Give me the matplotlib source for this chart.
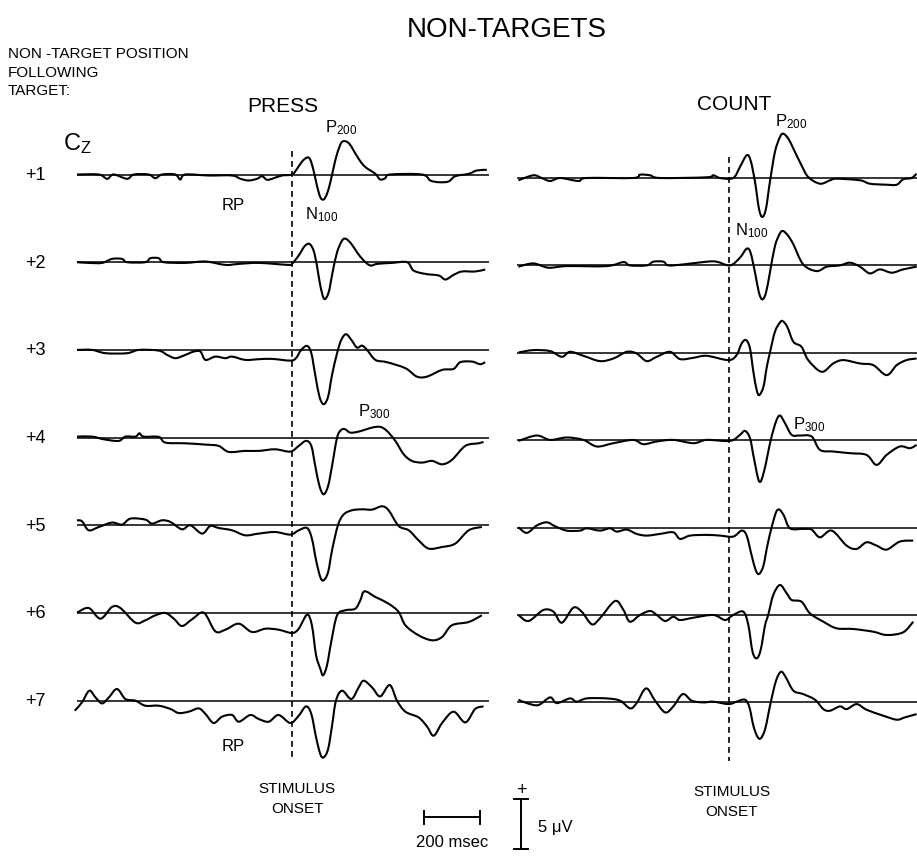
import numpy as np
import matplotlib
matplotlib.use("Agg")
import matplotlib.pyplot as plt
from matplotlib.path import Path
from matplotlib.patches import PathPatch

plt.rcParams['font.family'] = ['Liberation Sans', 'DejaVu Sans']
plt.rcParams['mathtext.fontset'] = 'custom'
plt.rcParams['mathtext.rm'] = 'Liberation Sans'
plt.rcParams['mathtext.it'] = 'Liberation Sans'

# ERP traces at Cz, (time in ms from stimulus onset, amplitude in uV, positive up)
press_1 = [(-768, 0), (-690, 0), (-660, -0.43), (-637, 0), (-589, -0.43), (-565, 0), (-512, 0),
           (-488, -0.37), (-464, 0), (-417, 0), (-399, -0.5), (-381, 0), (-298, -0.1), (-214, -0.1),
           (-184, -0.43), (-155, -0.6), (-125, -0.43), (-107, -0.17), (-89, -0.53), (-65, -0.37),
           (-36, -0.1), (0, 0), (18, 0.57), (36, 1.3), (54, 1.7), (65, 1.5), (77, 0.4), (89, -1.1),
           (101, -2.27), (113, -2.5), (125, -1.93), (137, -0.77), (149, 0.73), (161, 2.07),
           (176, 3.17), (190, 3.33), (205, 3.07), (220, 2.4), (238, 1.57), (256, 0.9), (274, 0.5),
           (298, 0.07), (315, -0.5), (333, -0.37), (351, 0), (464, 0), (494, -0.6), (524, -0.77),
           (559, -0.7), (583, -0.17), (631, 0.07), (660, 0.4), (696, 0.47)]
press_2 = [(-768, 0), (-726, -0.07), (-678, -0.07), (-643, 0.33), (-607, 0.33), (-589, 0), (-524, 0),
           (-506, 0.4), (-476, 0.4), (-458, 0), (-381, -0.07), (-309, 0.07), (-238, -0.27),
           (-190, -0.17), (-119, -0.07), (-12, -0.27), (0, -0.17), (24, 0.67), (45, 1.6), (62, 1.83),
           (77, 1.17), (89, -0.33), (101, -2.33), (115, -3.67), (131, -3.0), (145, -1.0), (161, 1.0),
           (179, 2.17), (193, 2.33), (212, 1.83), (232, 1.0), (256, 0.17), (280, -0.33),
           (304, -0.17), (357, -0.07), (411, 0), (434, -0.83), (476, -1.17), (524, -1.33),
           (548, -1.73), (577, -1.27), (607, -0.93), (654, -0.93), (690, -0.73)]
press_3 = [(-768, 0), (-714, 0), (-666, -0.33), (-589, -0.33), (-547, 0), (-476, -0.07), (-446, -0.5),
           (-417, -0.83), (-387, -0.57), (-351, -0.17), (-327, -0.17), (-309, -1.0), (-274, -0.67),
           (-238, -0.83), (-214, -0.67), (-167, -1.0), (-119, -0.93), (-71, -0.9), (-6, -1.07),
           (14, -0.83), (33, 0), (54, 0.4), (69, -0.33), (83, -2.5), (98, -4.67), (113, -5.43),
           (129, -4.67), (143, -2.5), (161, -0.33), (176, 1.0), (193, 1.57), (212, 1.0), (232, 0.23),
           (250, 0.43), (268, 0), (298, -1.0), (339, -1.23), (405, -1.83), (446, -2.67),
           (482, -2.67), (536, -2.0), (577, -1.9), (601, -1.23), (643, -1.17), (672, -1.43),
           (690, -1.23)]
press_4 = [(-768, 0.1), (-714, 0.1), (-672, -0.17), (-619, -0.33), (-595, 0.1), (-559, 0.1),
           (-545, 0.43), (-530, 0.1), (-476, 0.07), (-452, -0.5), (-381, -0.57), (-309, -0.7),
           (-262, -0.83), (-226, -1.43), (-167, -1.33), (-119, -1.33), (-60, -1.17), (-6, -1.4),
           (24, -0.83), (50, -0.33), (69, -0.83), (83, -2.83), (98, -4.83), (113, -5.67),
           (129, -4.83), (143, -2.83), (161, 0), (176, 0.77), (190, 0.83), (208, 0.5), (238, 0.6),
           (286, 1.0), (315, 1.07), (339, 0.67), (369, -0.33), (399, -1.67), (428, -2.33),
           (464, -2.5), (500, -2.33), (536, -2.67), (571, -2.23), (619, -0.83), (666, -0.57),
           (684, -0.43)]
press_5 = [(-768, 0.5), (-750, 0.4), (-726, -0.5), (-690, -0.17), (-643, 0.27), (-607, 0.07),
           (-577, 0.67), (-524, 0.57), (-500, 0.17), (-464, 0.5), (-434, 0.33), (-393, -0.4),
           (-363, 0), (-321, -0.83), (-292, -0.07), (-262, -0.27), (-214, -0.5), (-167, -1.0),
           (-119, -0.83), (-60, -0.67), (-6, -0.93), (24, -0.5), (54, -0.27), (71, -1.33),
           (86, -3.5), (101, -5.17), (113, -5.5), (129, -4.67), (143, -2.5), (164, 0), (184, 1.07),
           (214, 1.5), (250, 1.6), (286, 1.57), (321, 1.9), (345, 1.5), (381, -0.07), (417, -0.5),
           (452, -1.5), (488, -2.33), (536, -2.17), (583, -1.83), (631, -0.5), (678, -0.17)]
press_6 = [(-768, 0.03), (-726, 0.5), (-684, -0.57), (-643, 0.6), (-613, 0.5), (-559, -0.97),
           (-524, -0.73), (-488, -0.23), (-452, 0), (-422, -0.57), (-393, -1.3), (-357, -0.63),
           (-315, 0.03), (-274, -1.83), (-238, -1.67), (-190, -1.07), (-143, -1.9), (-95, -1.57),
           (-48, -1.67), (0, -2.0), (24, -1.57), (54, -0.17), (71, -1.23), (86, -4.23),
           (101, -5.57), (111, -6.23), (125, -5.23), (140, -2.9), (161, -0.23), (190, 0.27),
           (226, 0.43), (244, 1.27), (259, 2.17), (298, 1.6), (345, 0.93), (381, 0.1), (405, -1.23),
           (452, -2.23), (500, -2.73), (536, -2.4), (571, -1.23), (631, -0.9), (678, -0.23)]
press_7 = [(-776, -1.0), (-750, -0.17), (-724, 1.0), (-702, 0.33), (-678, -0.27), (-654, 0.33),
           (-625, 1.17), (-595, 0.17), (-559, 0), (-524, -0.5), (-476, -0.5), (-434, -0.83),
           (-405, -1.23), (-369, -1.1), (-333, -0.77), (-309, -1.33), (-280, -2.23), (-250, -1.6),
           (-214, -1.43), (-190, -2.1), (-149, -1.43), (-119, -1.83), (-83, -2.1), (-48, -1.43),
           (-6, -2.23), (24, -1.5), (50, -0.57), (69, -1.33), (86, -3.67), (101, -5.33),
           (113, -5.67), (129, -4.83), (143, -2.5), (157, 0), (179, 1.0), (212, 0.17), (238, 1.33),
           (256, 2.0), (286, 1.33), (315, 0.43), (349, 1.57), (375, 0), (405, -1.1), (452, -1.67),
           (482, -2.57), (506, -3.5), (536, -2.23), (577, -1.1), (619, -2.17), (654, -0.83),
           (684, -0.57)]

count_1 = [(-752, -0.23), (-699, 0.27), (-669, 0), (-639, -0.3), (-603, 0), (-538, -0.3), (-508, 0),
           (-342, 0), (-318, 0.33), (-282, 0.27), (-246, 0), (-80, 0.07), (-56, 0.27), (-32, 0),
           (15, 0), (39, 1.1), (63, 2.27), (77, 1.77), (93, -0.4), (107, -3.07), (119, -3.9),
           (132, -3.07), (146, -0.4), (164, 2.6), (182, 4.1), (194, 4.43), (212, 3.93), (230, 2.93),
           (259, 1.27), (283, 0.1), (325, -0.57), (361, -0.23), (384, -0.07), (468, -0.23),
           (503, -0.57), (563, -0.67), (599, -0.67), (622, -0.13), (652, 0), (670, 0.43)]
count_2 = [(-752, -0.13), (-699, 0.2), (-645, -0.23), (-580, -0.07), (-437, -0.07), (-377, 0.33),
           (-354, 0), (-294, 0), (-270, 0.37), (-234, 0.37), (-217, 0), (-163, 0.1), (-80, 0.37),
           (-44, 0.37), (4, 0), (39, 0.77), (63, 1.67), (77, 1.27), (93, -0.73), (107, -2.73),
           (119, -3.4), (132, -2.73), (146, -0.73), (164, 1.93), (182, 3.2), (194, 3.43),
           (212, 2.93), (230, 2.1), (265, 0.1), (313, -0.57), (349, -0.13), (396, 0), (432, 0.27),
           (468, -0.13), (503, -0.8), (539, -0.4), (581, -0.73), (622, -0.4), (670, -0.13)]
count_3 = [(-752, 0.03), (-699, 0.27), (-639, 0.17), (-597, -0.4), (-568, 0.1), (-520, -0.3),
           (-461, -0.83), (-413, -0.57), (-365, 0.1), (-330, -0.07), (-294, -0.83), (-258, -0.4),
           (-211, 0.1), (-175, -0.63), (-127, -0.5), (-80, -0.3), (-2, -0.73), (27, -0.23),
           (45, 0.93), (61, 1.27), (75, 0.43), (87, -1.9), (99, -3.73), (108, -4.23), (123, -3.4),
           (134, -1.57), (146, 0), (164, 2.1), (182, 3.03), (192, 3.17), (208, 2.6), (230, 1.1),
           (259, 0.6), (283, -0.73), (331, -1.9), (372, -1.07), (408, -0.73), (468, -1.07),
           (515, -1.23), (563, -2.23), (599, -1.23), (634, -0.73), (670, -0.57)]
count_4 = [(-752, -0.07), (-687, 0.47), (-639, 0.03), (-580, 0.27), (-520, 0.03), (-472, -0.63),
           (-413, -0.3), (-342, 0.03), (-306, -0.4), (-258, -0.13), (-199, 0.03), (-127, -0.3),
           (-80, 0.03), (4, -0.07), (39, 0.53), (57, 0.93), (75, 0.2), (89, -1.8), (108, -4.13),
           (125, -3.13), (149, 0), (168, 1.87), (182, 2.47), (200, 1.7), (224, 0.53), (253, 0.47),
           (295, 0.37), (325, -0.97), (372, -1.13), (432, -1.3), (491, -1.47), (527, -2.47),
           (563, -1.47), (610, -0.63), (646, -0.8), (670, -0.47)]
count_5 = [(-752, 0.03), (-722, -0.53), (-687, 0.2), (-651, 0.53), (-621, 0.13), (-580, -0.3),
           (-532, -0.3), (-508, -0.07), (-461, -0.3), (-425, -0.07), (-401, -0.4), (-365, -0.2),
           (-330, -0.63), (-294, -0.8), (-246, -0.63), (-199, -0.47), (-175, -1.13), (-139, -0.8),
           (-80, -0.73), (-32, -0.8), (15, -0.9), (45, -0.3), (63, -0.8), (81, -2.8), (96, -4.3),
           (108, -4.63), (123, -3.8), (137, -1.8), (152, 0), (168, 1.53), (180, 1.8), (196, 1.2),
           (218, -0.07), (265, -0.13), (295, -0.2), (325, -0.97), (367, -0.3), (420, -1.8),
           (456, -2.13), (491, -1.47), (527, -1.8), (563, -2.2), (610, -1.4), (658, -1.3)]
count_6 = [(-752, 0), (-716, -0.6), (-663, 0.5), (-627, 0.33), (-597, -0.77), (-556, 0.73),
           (-526, 0.33), (-490, -0.93), (-461, -0.33), (-407, 1.4), (-377, 0.5), (-354, -0.67),
           (-318, 0), (-282, 0.4), (-258, 0), (-228, -0.6), (-199, -0.17), (-175, -0.5),
           (-127, -0.27), (-56, 0), (-14, -0.5), (15, 0), (51, 0.33), (69, -1.0), (84, -3.67),
           (99, -4.33), (113, -3.5), (129, -1.0), (140, 0), (158, 2.0), (182, 3.0), (206, 2.17),
           (224, 1.5), (259, 1.33), (289, 0.17), (337, -0.67), (384, -1.33), (444, -1.4),
           (515, -1.67), (563, -2.0), (622, -1.73), (658, -0.67)]
count_7 = [(-752, 0.27), (-722, -0.07), (-681, -0.27), (-639, 0.5), (-615, -0.07), (-568, 0.4),
           (-544, 0.07), (-508, 0.4), (-437, 0.4), (-389, 0.17), (-353, -0.6), (-330, -0.07),
           (-296, 1.4), (-264, 0.17), (-228, -1.0), (-199, -0.4), (-165, 0.83), (-133, 0.17),
           (-92, 0), (-56, 0.07), (-2, -0.17), (27, 0.07), (57, 0.27), (73, -0.5), (87, -2.33),
           (101, -3.4), (113, -3.6), (129, -2.67), (149, 0), (168, 2.17), (186, 3.07), (203, 2.5),
           (230, 1.17), (265, 0.83), (307, 0.27), (337, -0.67), (361, -0.83), (396, -0.4),
           (420, -0.67), (456, -0.17), (491, -0.73), (551, -1.33), (599, -1.73), (628, -1.5),
           (670, -1.17)]

press_traces = [press_1, press_2, press_3, press_4, press_5, press_6, press_7]
count_traces = [count_1, count_2, count_3, count_4, count_5, count_6, count_7]
positions = ['+1', '+2', '+3', '+4', '+5', '+6', '+7']

W, H = 917, 862
fig = plt.figure(figsize=(W / 100, H / 100), dpi=100)
PX_PER_MS = 0.28
PX_PER_UV = 10.0


def fx(x):
    return x / W


def fy(y):
    return 1 - y / H


def make_panel(x0, x1, onset_px, base_px, step_px, top=110, bottom=780):
    ax = fig.add_axes([fx(x0), fy(bottom), (x1 - x0) / W, (bottom - top) / H])
    ax.set_xlim((x0 - onset_px) / PX_PER_MS, (x1 - onset_px) / PX_PER_MS)
    ax.set_ylim(-(bottom - base_px) / PX_PER_UV, (base_px - top) / PX_PER_UV)
    ax.set_axis_off()
    offsets = [-i * step_px / PX_PER_UV for i in range(7)]
    return ax, offsets


def smooth_path(t, v):
    # Catmull-Rom curve through the read points, drawn as cubic Bezier segments
    p = np.column_stack([t, v]).astype(float)
    p_ext = np.vstack([p[0], p, p[-1]])
    verts = [p[0]]
    codes = [Path.MOVETO]
    for i in range(1, len(p_ext) - 2):
        p0, p1, p2, p3 = p_ext[i - 1], p_ext[i], p_ext[i + 1], p_ext[i + 2]
        verts += [p1 + (p2 - p0) / 6, p2 - (p3 - p1) / 6, p2]
        codes += [Path.CURVE4] * 3
    return Path(verts, codes)


ax_l, off_l = make_panel(77, 489, 292, 175.5, 87.7)
ax_r, off_r = make_panel(517, 917, 729, 179.0, 87.4)

for ax, traces, offs in [(ax_l, press_traces, off_l), (ax_r, count_traces, off_r)]:
    for tr, off in zip(traces, offs):
        ax.axhline(off, color='black', lw=1.1)
        t, v = zip(*tr)
        ax.add_patch(PathPatch(smooth_path(t, np.array(v) + off), fill=False,
                               edgecolor='black', lw=1.5, clip_on=False, joinstyle='round'))

# stimulus onset lines
ax_l.plot([0, 0], [2.35, -58.25], color='black', lw=1.2, ls=(0, (3.5, 2.5)))
ax_r.plot([0, 0], [2.1, -58.3], color='black', lw=1.2, ls=(0, (3.5, 2.5)))

# position labels
for lab, off in zip(positions, off_l):
    y = 175.5 - off * PX_PER_UV
    fig.text(fx(25), fy(y), lab, fontsize=13, ha='left', va='center')


def label(x, y, s, size=11, **kw):
    fig.text(fx(x), fy(y), s, fontsize=size, ha=kw.pop('ha', 'left'),
             va=kw.pop('va', 'baseline'), **kw)


label(407, 37, 'NON-TARGETS', 20)
label(8, 58, 'NON -TARGET POSITION', 11)
label(8, 77, 'FOLLOWING', 11)
label(8, 95, 'TARGET:', 11)
label(247, 112, 'PRESS', 15)
label(697, 110, 'COUNT', 15)
label(63, 150, r'C$_\mathregular{Z}$', 17)

label(325, 132, r'P$_\mathregular{200}$', 12)
label(775, 126, r'P$_\mathregular{200}$', 12)
label(305, 219, r'N$_\mathregular{100}$', 12)
label(735, 235, r'N$_\mathregular{100}$', 12)
label(358, 416, r'P$_\mathregular{300}$', 12)
label(793, 429, r'P$_\mathregular{300}$', 12)
label(222, 210, 'RP', 12)
label(222, 751, 'RP', 12)

label(297, 793, 'STIMULUS', 11, ha='center')
label(297, 813, 'ONSET', 11, ha='center')
label(732, 796, 'STIMULUS', 11, ha='center')
label(732, 816, 'ONSET', 11, ha='center')

# scale bars: 200 msec and 5 uV
ax_bar = fig.add_axes([0, 0, 1, 1])
ax_bar.set_xlim(0, W)
ax_bar.set_ylim(H, 0)
ax_bar.set_axis_off()
ax_bar.plot([424, 424 + 200 * PX_PER_MS], [818, 818], color='black', lw=1.4)
for xe in [424, 424 + 200 * PX_PER_MS]:
    ax_bar.plot([xe, xe], [812, 825], color='black', lw=1.4)
ax_bar.plot([521, 521], [800, 800 + 5 * PX_PER_UV], color='black', lw=1.4)
for ye in [800, 800 + 5 * PX_PER_UV]:
    ax_bar.plot([514, 528], [ye, ye], color='black', lw=1.4)
label(452, 847, '200 msec', 12, ha='center')
label(521, 795, '+', 13, ha='center')
label(538, 832, '5 μV', 12)

fig.savefig('out.png', dpi=100)
